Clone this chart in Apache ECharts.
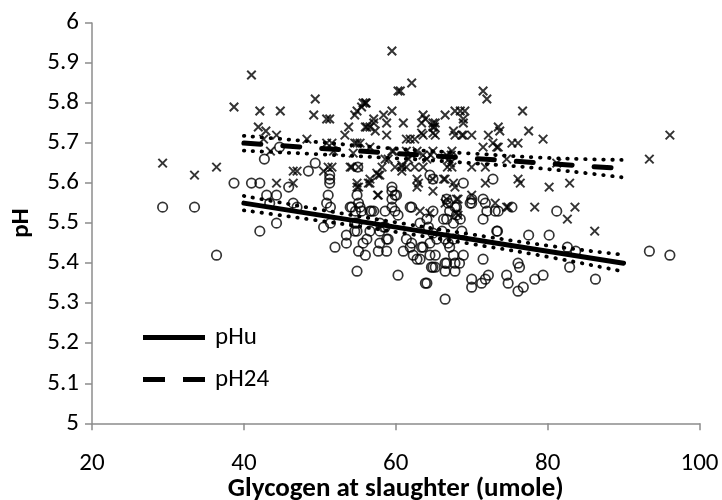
<!DOCTYPE html>
<html>
<head>
<meta charset="utf-8">
<script src="https://cdn.jsdelivr.net/npm/echarts@6/dist/echarts.min.js"></script>
<style>
html,body{margin:0;padding:0;background:#fff;}
#chart{width:722px;height:500px;}
</style>
</head>
<body>
<div id="chart"></div>
<script>
// ---- data ----
const xTicks = [20, 40, 60, 80, 100];
const yTicks = [5, 5.1, 5.2, 5.3, 5.4, 5.5, 5.6, 5.7, 5.8, 5.9, 6];

// pHu observations [glycogen, pH]
const pHuPoints = [
[29.3,5.54],[33.5,5.54],[36.4,5.42],[38.7,5.60],[41.0,5.60],[42.1,5.60],[42.7,5.66],[44.7,5.69],[45.9,5.59],[43.0,5.57],
[44.3,5.57],[43.4,5.55],[46.5,5.55],[47.0,5.54],[48.5,5.63],[49.4,5.65],[51.3,5.61],[51.3,5.60],[51.1,5.57],[50.9,5.55],
[55.0,5.64],[54.9,5.57],[54.2,5.54],[55.3,5.54],[56.6,5.53],[57.1,5.53],[58.6,5.53],[59.5,5.54],[60.3,5.52],[59.5,5.56],
[59.9,5.57],[61.9,5.54],[42.1,5.48],[44.3,5.50],[50.5,5.49],[52.0,5.44],[51.4,5.50],[54.9,5.38],[60.3,5.37],[53.5,5.45],
[53.5,5.47],[54.9,5.48],[55.1,5.43],[56.0,5.42],[55.7,5.45],[56.2,5.46],[56.6,5.48],[57.7,5.43],[58.8,5.43],[57.9,5.45],
[58.8,5.46],[61.0,5.43],[61.4,5.46],[54.9,5.50],[57.9,5.50],[58.4,5.49],[51.4,5.54],[54.0,5.54],[54.7,5.53],[55.1,5.55],
[55.5,5.53],[56.8,5.53],[59.9,5.53],[59.5,5.58],[60.1,5.57],[64.9,5.61],[54.6,5.50],[54.6,5.48],[57.9,5.48],[58.6,5.49],
[59.0,5.46],[62.1,5.45],[61.9,5.44],[62.3,5.42],[62.8,5.41],[63.2,5.41],[63.6,5.44],[63.4,5.44],[64.5,5.42],[64.7,5.39],
[65.2,5.39],[64.5,5.45],[64.3,5.49],[63.2,5.50],[64.1,5.51],[63.9,5.35],[64.1,5.35],[62.1,5.54],[68.9,5.60],[72.8,5.61],
[66.7,5.56],[66.9,5.55],[70.0,5.56],[70.0,5.55],[71.5,5.56],[72.0,5.53],[73.1,5.53],[73.5,5.53],[75.3,5.54],[64.9,5.53],
[66.3,5.51],[66.7,5.51],[67.1,5.53],[67.8,5.54],[68.0,5.52],[68.5,5.51],[67.6,5.50],[71.5,5.51],[68.7,5.48],[64.9,5.475],
[65.4,5.46],[66.1,5.48],[66.5,5.46],[66.9,5.45],[67.6,5.46],[67.1,5.44],[73.3,5.48],[77.5,5.47],[65.2,5.42],[66.5,5.40],
[66.5,5.38],[67.6,5.42],[67.8,5.38],[67.8,5.40],[68.9,5.42],[71.5,5.41],[70.0,5.36],[70.0,5.34],[71.3,5.35],[71.8,5.36],
[72.2,5.37],[74.6,5.37],[74.8,5.35],[76.1,5.40],[76.3,5.39],[76.1,5.33],[76.8,5.34],[78.3,5.36],[66.5,5.31],[69.8,5.55],
[71.8,5.55],[81.2,5.53],[73.4,5.48],[80.2,5.47],[82.6,5.44],[83.7,5.43],[93.4,5.43],[96.1,5.42],[82.9,5.39],[86.3,5.36],
[79.4,5.37],[68.4,5.40],[66.7,5.40],[64.9,5.39],[68.0,5.54],[64.5,5.62],[51.3,5.62],[59.5,5.59]
];

// pH24 observations [glycogen, pH]
const pH24Points = [
[29.3,5.65],[33.5,5.62],[36.4,5.64],[38.7,5.79],[41.0,5.87],[42.1,5.78],[44.8,5.78],[41.9,5.74],[42.9,5.73],[44.3,5.72],
[42.6,5.71],[43.5,5.68],[44.3,5.60],[46.5,5.60],[46.5,5.63],[47.0,5.63],[49.4,5.81],[49.2,5.77],[50.9,5.76],[48.3,5.71],
[50.5,5.63],[51.1,5.64],[50.9,5.70],[51.6,5.70],[51.8,5.68],[54.2,5.64],[54.9,5.59],[56.6,5.61],[57.7,5.62],[57.6,5.57],
[59.5,5.93],[60.3,5.83],[59.5,5.78],[53.3,5.72],[53.8,5.74],[54.9,5.78],[55.7,5.80],[56.1,5.80],[56.2,5.74],[57.1,5.75],
[57.3,5.73],[58.4,5.77],[58.8,5.75],[58.8,5.72],[61.0,5.75],[61.4,5.71],[54.9,5.70],[54.4,5.675],[56.6,5.69],[59.5,5.68],
[59.0,5.66],[60.8,5.64],[59.9,5.64],[61.7,5.66],[62.1,5.85],[60.6,5.83],[71.5,5.83],[72.0,5.81],[76.7,5.78],[63.6,5.77],
[63.4,5.75],[65.2,5.75],[65.1,5.74],[66.5,5.77],[67.8,5.78],[68.5,5.78],[69.1,5.78],[68.9,5.75],[67.6,5.73],[68.7,5.72],
[70.0,5.72],[72.2,5.72],[73.5,5.74],[73.7,5.73],[77.5,5.73],[79.4,5.71],[96.1,5.72],[93.4,5.66],[72.8,5.70],[73.5,5.69],
[71.5,5.69],[75.3,5.70],[76.1,5.70],[74.6,5.66],[81.2,5.65],[70.0,5.64],[71.8,5.64],[63.6,5.72],[62.5,5.71],[67.4,5.68],
[66.7,5.67],[63.6,5.64],[62.5,5.64],[67.4,5.64],[64.9,5.58],[66.3,5.61],[67.6,5.60],[67.8,5.59],[62.8,5.61],[62.8,5.59],
[71.8,5.60],[76.1,5.61],[76.4,5.60],[80.2,5.59],[82.9,5.60],[70.0,5.57],[66.7,5.56],[68.2,5.56],[73.1,5.55],[74.6,5.54],
[78.3,5.54],[83.6,5.54],[82.6,5.51],[86.2,5.48],[63.2,5.53],[68.0,5.525],[68.2,5.52],[56.0,5.80],[55.5,5.79],[54.6,5.77],
[57.1,5.76],[63.9,5.76],[64.9,5.75],[56.0,5.74],[56.6,5.74],[63.4,5.725],[61.9,5.71],[64.9,5.725],[51.3,5.76],[54.6,5.70],
[55.3,5.70],[59.7,5.68],[61.4,5.68],[62.1,5.67],[62.8,5.68],[63.6,5.67],[64.1,5.66],[64.6,5.67],[58.6,5.66],[58.2,5.64],
[60.8,5.645],[51.6,5.64],[54.0,5.64],[55.1,5.64],[61.4,5.64],[57.5,5.625],[56.4,5.60],[63.0,5.60],[54.9,5.60],[55.1,5.59],
[56.6,5.60],[57.9,5.62],[57.7,5.57],[64.5,5.525],[60.8,5.63],[64.9,5.74],[65.2,5.72],[67.8,5.72],[68.9,5.72],[68.9,5.76],
[64.9,5.68],[67.0,5.66],[67.2,5.65],[66.8,5.64],[67.3,5.67],[64.9,5.61],[66.5,5.61],[66.5,5.55],[68.0,5.56],[74.8,5.54],
[73.3,5.69]
];

// regression lines and confidence bands
const fitX       = [40, 50, 60, 70, 80, 90];
const pHuFit     = [5.55, 5.52, 5.49, 5.46, 5.43, 5.40];
const pHuUpper   = [5.568, 5.534, 5.502, 5.472, 5.444, 5.421];
const pHuLower   = [5.532, 5.506, 5.478, 5.448, 5.416, 5.379];
const pH24Fit    = [5.700, 5.687, 5.674, 5.662, 5.649, 5.636];
const pH24Upper  = [5.718, 5.702, 5.686, 5.674, 5.663, 5.658];
const pH24Lower  = [5.681, 5.672, 5.662, 5.650, 5.635, 5.614];

// ---- chart ----
const FONT = 'Carlito, Lato, sans-serif';
const zip = (xs, ys) => xs.map((x, i) => [x, ys[i]]);
const xMark = 'path://M0,0L10,10M10,0L0,10';

const chart = echarts.init(document.getElementById('chart'), null, {renderer: 'canvas'});

function band(data) {
  return {
    type: 'line', data: data, symbol: 'none', smooth: true, silent: true, z: 4,
    lineStyle: {color: '#000', width: 3.8, type: [0.5, 8.5], cap: 'round'}
  };
}

chart.setOption({
  animation: false,
  backgroundColor: '#fff',
  textStyle: {fontFamily: FONT},
  grid: {left: 92, right: 22.5, top: 23, bottom: 76.7, containLabel: false, outerBoundsMode: 'none'},
  xAxis: {
    type: 'value', min: xTicks[0], max: xTicks[xTicks.length - 1], interval: 20,
    name: 'Glycogen at slaughter (umole)', nameLocation: 'middle', nameGap: 52, nameMoveOverlap: false,
    nameTextStyle: {fontFamily: FONT, fontSize: 27, fontWeight: 'bold', color: '#000'},
    axisLine: {show: true, onZero: false, lineStyle: {color: '#8c8c8c', width: 1.5}},
    axisTick: {show: true, inside: false, length: 7, lineStyle: {color: '#8c8c8c', width: 1.5}},
    axisLabel: {fontFamily: FONT, fontSize: 25, color: '#000', margin: 28},
    splitLine: {show: false}
  },
  yAxis: {
    type: 'value', min: yTicks[0], max: yTicks[yTicks.length - 1], interval: 0.1,
    name: 'pH', nameLocation: 'middle', nameGap: 58, nameRotate: 90, nameMoveOverlap: false,
    nameTextStyle: {fontFamily: FONT, fontSize: 25, fontWeight: 'bold', color: '#000'},
    axisLine: {show: true, onZero: false, lineStyle: {color: '#8c8c8c', width: 1.5}},
    axisTick: {show: true, inside: false, length: 7, lineStyle: {color: '#8c8c8c', width: 1.5}},
    axisLabel: {fontFamily: FONT, fontSize: 25, color: '#000', margin: 13},
    splitLine: {show: false}
  },
  legend: {
    data: [
      {name: 'pHu', icon: 'path://M0,0H62V5H0Z'},
      {name: 'pH24', icon: 'path://M0,0H22V5H0Z M40,0H62V5H40Z'}
    ],
    orient: 'vertical', left: 138, top: 320,
    itemWidth: 62, itemHeight: 5, itemGap: 17,
    selectedMode: false,
    itemStyle: {color: '#000', borderWidth: 0},
    textStyle: {fontFamily: FONT, fontSize: 25, color: '#000', padding: [0, 0, 0, 5]}
  },
  series: [
    {
      name: 'pHu obs', type: 'scatter', data: pHuPoints, symbol: 'circle', symbolSize: 9.5, z: 2,
      itemStyle: {color: 'rgba(0,0,0,0)', borderColor: '#000', borderWidth: 1.7}
    },
    {
      name: 'pH24 obs', type: 'scatter', data: pH24Points, symbol: xMark, symbolSize: 8.5, z: 2,
      itemStyle: {color: 'rgba(0,0,0,0)', borderColor: '#000', borderWidth: 2}
    },
    band(zip(fitX, pHuUpper)),
    band(zip(fitX, pHuLower)),
    band(zip(fitX, pH24Upper)),
    band(zip(fitX, pH24Lower)),
    {
      name: 'pHu', type: 'line', data: zip(fitX, pHuFit), symbol: 'none', z: 5,
      lineStyle: {color: '#000', width: 5, type: 'solid', cap: 'round'},
      itemStyle: {color: '#000'}
    },
    {
      name: 'pH24', type: 'line', data: zip(fitX, pH24Fit), symbol: 'none', z: 5,
      lineStyle: {color: '#000', width: 5, type: [17, 22], cap: 'round'},
      itemStyle: {color: '#000'}
    }
  ]
});
</script>
</body>
</html>
